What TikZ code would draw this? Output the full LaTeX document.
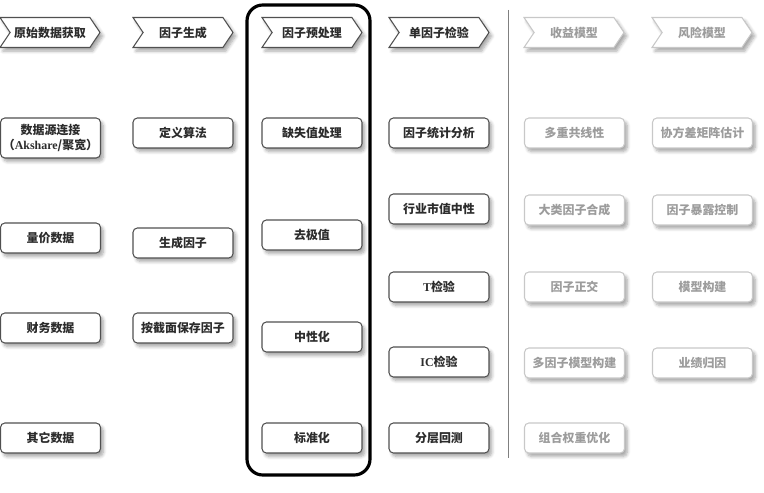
\documentclass[tikz,border=0pt]{standalone}
\usepackage{fontspec}
\setmainfont{Liberation Serif}
\newfontfamily\cjk{Noto Sans CJK SC}
\usepackage{xcolor}
\usepackage{tikz}
\usetikzlibrary{shapes.symbols, shadows.blur}

\definecolor{boxline}{HTML}{505050}
\definecolor{boxtext}{HTML}{2C2C2C}
\definecolor{idleline}{HTML}{C8C8C8}
\definecolor{idletext}{HTML}{9C9C9C}

\begin{document}
\begin{tikzpicture}[
  font=\cjk\bfseries\fontsize{6.8}{8.4}\selectfont,
  text=boxtext,
  card/.style={draw=boxline, line width=0.6pt, fill=white, rounded corners=2.5pt,
    minimum width=2cm, minimum height=0.6cm, inner sep=1pt, align=center,
    blur shadow={shadow xshift=1.6pt, shadow yshift=-2pt, shadow opacity=35,
      shadow blur steps=6}},
  stage/.style={card, signal, signal from=west, signal to=east,
    signal pointer angle=112, rounded corners=0pt},
  idle/.style={draw=idleline, text=idletext}
]
  \useasboundingbox (0,0) rectangle (15.28,9.84);

  % headers
  \node[stage] (hdata) at (1.00, 9.19) {原始数据获取};
  \node[stage] (hgen)  at (3.66, 9.19) {因子生成};
  \node[stage] (hprep) at (6.24, 9.19) {因子预处理};
  \node[stage] (htest) at (8.78, 9.19) {单因子检验};
  \node[stage, idle] (hret)  at (11.48, 9.19) {收益模型};
  \node[stage, idle] (hrisk) at (14.04, 9.19) {风险模型};

  % data
  \node[card, minimum height=0.8cm] (data1) at (1.01, 7.08) {数据源连接\\（{\rmfamily Akshare}/聚宽）};
  \node[card] (data2) at (1.01, 5.08) {量价数据};
  \node[card] (data3) at (1.01, 3.28) {财务数据};
  \node[card] (data4) at (1.01, 1.08) {其它数据};

  % factor generation
  \node[card] (gen1) at (3.66, 7.18) {定义算法};
  \node[card] (gen2) at (3.66, 4.98) {生成因子};
  \node[card] (gen3) at (3.66, 3.28) {按截面保存因子};

  % preprocessing
  \node[card] (prep1) at (6.24, 7.18) {缺失值处理};
  \node[card] (prep2) at (6.24, 5.14) {去极值};
  \node[card] (prep3) at (6.24, 3.10) {中性化};
  \node[card] (prep4) at (6.24, 1.08) {标准化};
  \draw[line width=1.8pt, rounded corners=9pt] (4.94, 9.74) rectangle (7.40, 0.34);

  % single factor test
  \node[card] (test1) at (8.78, 7.18) {因子统计分析};
  \node[card] (test2) at (8.78, 5.66) {行业市值中性};
  \node[card] (test3) at (8.78, 4.10) {{\rmfamily T}检验};
  \node[card] (test4) at (8.78, 2.60) {{\rmfamily IC}检验};
  \node[card] (test5) at (8.78, 1.08) {分层回测};

  \draw[gray, line width=1.1pt] (10.17, 9.64) -- (10.17, 0.68);

  % return model
  \node[card, idle] (ret1) at (11.49, 7.18) {多重共线性};
  \node[card, idle] (ret2) at (11.49, 5.64) {大类因子合成};
  \node[card, idle] (ret3) at (11.49, 4.10) {因子正交};
  \node[card, idle] (ret4) at (11.49, 2.58) {多因子模型构建};
  \node[card, idle] (ret5) at (11.49, 1.08) {组合权重优化};

  % risk model
  \node[card, idle] (risk1) at (14.05, 7.18) {协方差矩阵估计};
  \node[card, idle] (risk2) at (14.05, 5.64) {因子暴露控制};
  \node[card, idle] (risk3) at (14.05, 4.10) {模型构建};
  \node[card, idle] (risk4) at (14.05, 2.58) {业绩归因};
\end{tikzpicture}
\end{document}
